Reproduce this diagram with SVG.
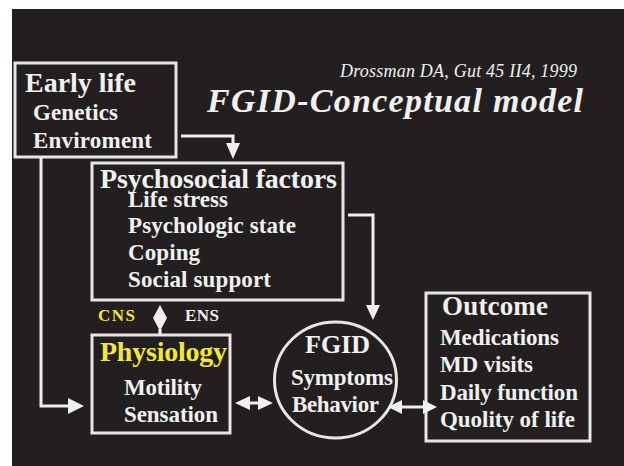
<svg xmlns="http://www.w3.org/2000/svg" width="624" height="466" viewBox="0 0 624 466">
<style>
text{font-family:'Liberation Serif','Times New Roman','DejaVu Serif',serif;font-weight:bold;fill:#f0f0f0}
.y{fill:#f2e63a}
.it{font-style:italic}
.reg{font-weight:normal}
.box{fill:none;stroke:#e6e6e6;stroke-width:3}
.ln{fill:none;stroke:#eeeeee;stroke-width:3}
.ah{fill:#f0f0f0;stroke:none}
</style>
<rect x="0" y="0" width="624" height="466" fill="#ffffff"/>
<rect x="12" y="9" width="612" height="457" fill="#231f20"/>
<g id="title">
<text class="it reg" x="340" y="77" font-size="18" textLength="237">Drossman DA, Gut 45 II4, 1999</text>
<text class="it" x="207" y="112" font-size="34" textLength="376">FGID-Conceptual model</text>
</g>
<g id="early-life">
<rect class="box" x="15" y="63" width="161" height="94"/>
<text x="25" y="92" font-size="28" textLength="111">Early life</text>
<text x="33" y="120" font-size="23" textLength="85">Genetics</text>
<text x="33" y="148" font-size="23" textLength="119">Enviroment</text>
</g>
<g id="psychosocial">
<rect class="box" x="92" y="163" width="251" height="137"/>
<text x="100" y="188" font-size="28" textLength="237">Psychosocial factors</text>
<text x="128" y="207" font-size="23" textLength="100">Life stress</text>
<text x="128" y="233" font-size="23" textLength="168">Psychologic state</text>
<text x="128" y="260" font-size="23" textLength="72">Coping</text>
<text x="128" y="287" font-size="23" textLength="143">Social support</text>
</g>
<g id="physiology">
<rect class="box" x="92" y="335" width="138" height="98"/>
<text class="y" x="100" y="361" font-size="28" textLength="127">Physiology</text>
<text x="124" y="395" font-size="23" textLength="78">Motility</text>
<text x="124" y="422" font-size="23" textLength="94">Sensation</text>
</g>
<g id="fgid">
<ellipse cx="335.500" cy="380" rx="61" ry="58" fill="none" stroke="#e6e6e6" stroke-width="3"/>
<text x="305" y="353" font-size="26" textLength="65">FGID</text>
<text x="291" y="385" font-size="23" textLength="102">Symptoms</text>
<text x="292" y="412" font-size="23" textLength="87">Behavior</text>
</g>
<g id="outcome">
<rect class="box" x="426" y="293" width="164" height="148"/>
<text x="442" y="315" font-size="27" textLength="106">Outcome</text>
<text x="440" y="345" font-size="23" textLength="119">Medications</text>
<text x="440" y="372" font-size="23" textLength="93">MD visits</text>
<text x="440" y="400" font-size="23" textLength="138">Daily function</text>
<text x="440" y="427" font-size="23" textLength="135">Quolity of life</text>
</g>
<g id="labels">
<text class="y" x="98" y="321" font-size="17" textLength="37">CNS</text>
<text x="185" y="321" font-size="17" textLength="34">ENS</text>
</g>
<g id="connectors">
<polyline class="ln" points="181,136 233,136 233,144"/>
<polygon class="ah" points="226,143 240,143 233,159"/>
<polyline class="ln" points="348,215 373,215 373,306"/>
<polygon class="ah" points="366,305 380,305 373,320"/>
<polyline class="ln" points="41,157 41,406 70,406"/>
<polygon class="ah" points="68,398 84,406 68,414"/>
<polygon class="ah" points="160,305 167,318 160,331 153,318"/>
<line class="ln" x1="160" y1="329" x2="160" y2="335"/>
<line class="ln" x1="245" y1="403" x2="263" y2="403"/>
<polygon class="ah" points="235,403 250,396 250,410"/>
<polygon class="ah" points="273,403 258,396 258,410"/>
<line class="ln" x1="398" y1="407" x2="427" y2="407"/>
<polygon class="ah" points="388,407 402,400 402,414"/>
<polygon class="ah" points="437,407 423,400 423,414"/>
</g>
</svg>
